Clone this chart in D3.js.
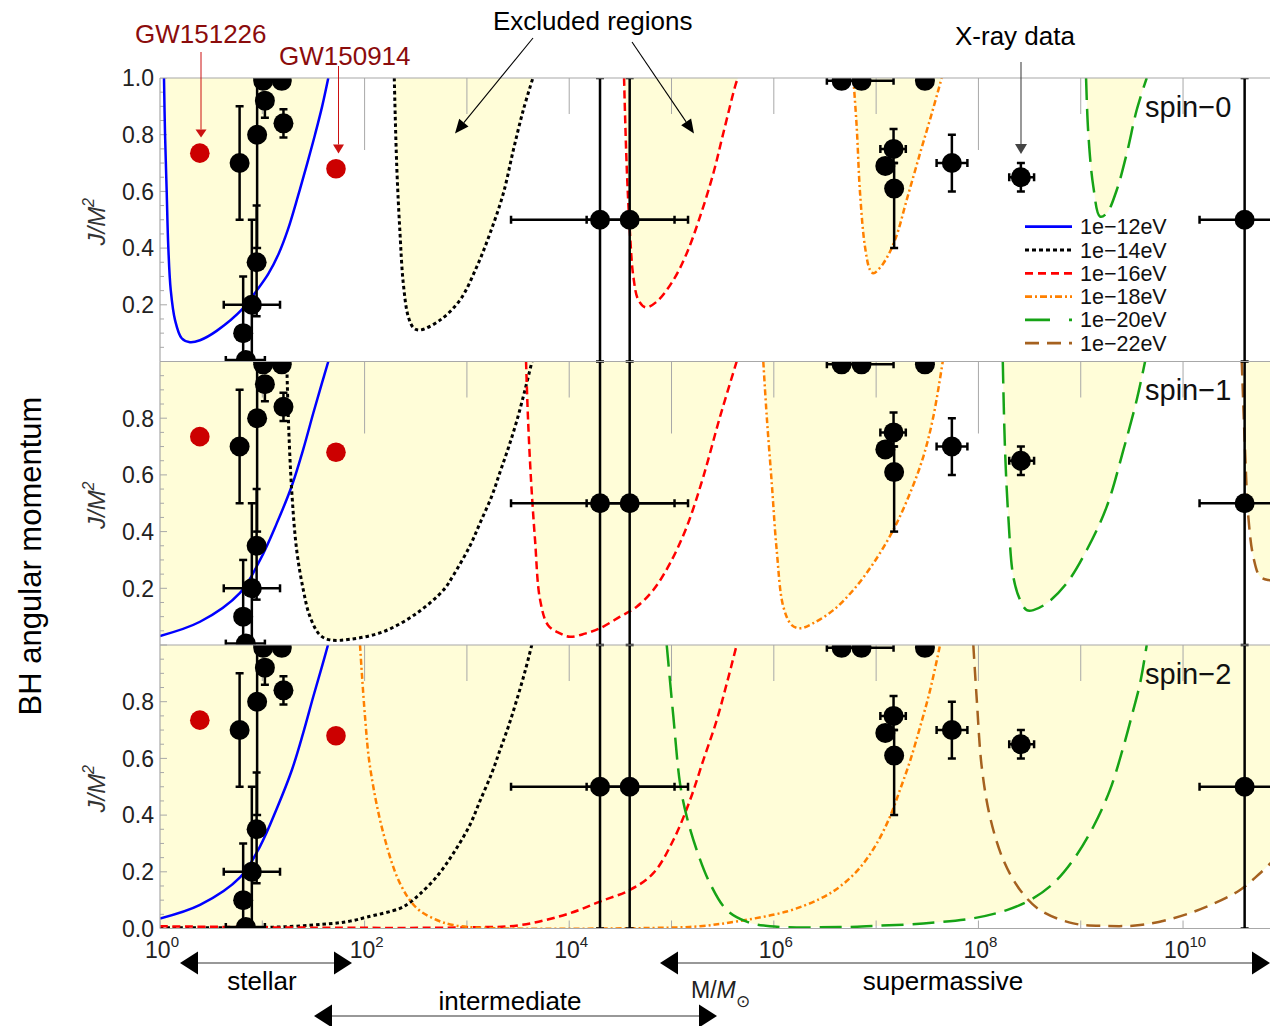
<!DOCTYPE html>
<html><head><meta charset="utf-8">
<script src="https://cdn.jsdelivr.net/npm/d3@7"></script>
<style>
body{margin:0;background:#fff}
svg{display:block}
text{font-family:"Liberation Sans",Arial,Helvetica,sans-serif}
</style>
</head><body>
<svg id="chart" width="1270" height="1026"></svg>
<script>
// ---------------- DATA ----------------
const panelNames = ["spin\u22120", "spin\u22121", "spin\u22122"];
const bosonMasses = ["1e\u221212eV", "1e\u221214eV", "1e\u221216eV", "1e\u221218eV", "1e\u221220eV", "1e\u221222eV"];
const xTickExps = [0, 2, 4, 6, 8, 10];
const yTickVals = [0.0, 0.2, 0.4, 0.6, 0.8, 1.0];

// Exclusion boundaries: [log10(M/Msun), J/M^2]
// spin-0
const s0_12 = [[0.039,1.0],[0.049,0.805],[0.065,0.605],[0.081,0.405],[0.105,0.252],[0.147,0.146],[0.212,0.082],[0.293,0.068],[0.391,0.075],[0.554,0.108],[0.814,0.188],[0.945,0.25],[1.06,0.31],[1.16,0.38],[1.25,0.465],[1.35,0.585],[1.44,0.70],[1.515,0.80],[1.585,0.90],[1.645,1.0]];
const s0_14 = [[2.29,1.0],[2.314,0.69],[2.346,0.452],[2.378,0.276],[2.427,0.158],[2.48,0.118],[2.542,0.111],[2.737,0.146],[2.933,0.217],[3.096,0.334],[3.226,0.452],[3.356,0.593],[3.454,0.746],[3.551,0.887],[3.645,1.0]];
const s0_16 = [[4.536,1.0],[4.562,0.687],[4.594,0.452],[4.627,0.299],[4.676,0.217],[4.748,0.191],[4.855,0.211],[5.018,0.287],[5.149,0.382],[5.279,0.511],[5.409,0.664],[5.506,0.805],[5.630,0.981],[5.650,1.0]];
const s0_18 = [[6.777,1.0],[6.810,0.828],[6.843,0.593],[6.891,0.405],[6.940,0.323],[6.973,0.311],[7.07,0.346],[7.185,0.429],[7.299,0.57],[7.429,0.734],[7.544,0.875],[7.641,1.0]];
const s0_20 = [[9.052,1.0],[9.074,0.805],[9.123,0.617],[9.189,0.511],[9.254,0.523],[9.352,0.605],[9.450,0.734],[9.547,0.887],[9.645,1.0]];
// spin-1
const s1_12 = [[0.0,0.032],[0.391,0.082],[0.782,0.184],[0.978,0.30],[1.141,0.429],[1.287,0.56],[1.40,0.69],[1.50,0.82],[1.58,0.92],[1.645,1.0]];
const s1_14 = [[1.239,1.0],[1.254,0.805],[1.287,0.547],[1.336,0.335],[1.401,0.194],[1.466,0.10],[1.564,0.035],[1.662,0.018],[1.857,0.02],[2.183,0.047],[2.509,0.112],[2.771,0.194],[2.866,0.245],[3.030,0.35],[3.128,0.43],[3.243,0.525],[3.324,0.61],[3.405,0.695],[3.487,0.79],[3.568,0.90],[3.636,1.0]];
const s1_16 = [[3.578,1.0],[3.597,0.80],[3.627,0.58],[3.666,0.37],[3.715,0.16],[3.793,0.07],[3.910,0.041],[4.008,0.029],[4.154,0.04],[4.301,0.059],[4.497,0.10],[4.660,0.135],[4.822,0.194],[4.985,0.288],[5.149,0.417],[5.311,0.594],[5.474,0.805],[5.637,1.0]];
const s1_18 = [[5.897,1.0],[5.931,0.805],[5.980,0.57],[6.028,0.335],[6.093,0.135],[6.175,0.07],[6.256,0.059],[6.386,0.077],[6.582,0.123],[6.777,0.194],[6.973,0.288],[7.168,0.406],[7.331,0.535],[7.461,0.664],[7.559,0.805],[7.651,1.0]];
const s1_20 = [[8.238,1.0],[8.260,0.688],[8.292,0.453],[8.341,0.241],[8.407,0.159],[8.472,0.123],[8.537,0.123],[8.667,0.147],[8.863,0.218],[9.059,0.335],[9.254,0.488],[9.417,0.688],[9.547,0.864],[9.629,1.0]];
const s1_22 = [[10.574,1.0],[10.606,0.688],[10.638,0.453],[10.687,0.311],[10.753,0.241],[10.834,0.229],[10.86,0.229]];
// spin-2
const s2_12 = [[0.0,0.035],[0.391,0.083],[0.782,0.18],[0.978,0.29],[1.144,0.425],[1.29,0.56],[1.40,0.69],[1.50,0.82],[1.58,0.92],[1.642,1.0]];
const s2_14 = [[0.0,0.003],[0.8,0.003],[1.205,0.006],[1.694,0.018],[1.857,0.026],[2.021,0.040],[2.346,0.071],[2.444,0.092],[2.542,0.122],[2.705,0.183],[2.867,0.265],[3.030,0.366],[3.128,0.45],[3.242,0.547],[3.324,0.63],[3.405,0.712],[3.487,0.806],[3.568,0.907],[3.634,1.0]];
const s2_16 = [[0.0,0.008],[1.5,0.003],[3.0,0.004],[3.519,0.012],[4.008,0.054],[4.301,0.095],[4.594,0.136],[4.822,0.195],[5.018,0.312],[5.181,0.453],[5.311,0.594],[5.442,0.735],[5.540,0.864],[5.637,1.0]];
const s2_18 = [[1.955,1.0],[2.004,0.747],[2.053,0.57],[2.183,0.336],[2.346,0.159],[2.509,0.072],[2.705,0.03],[2.867,0.012],[3.193,0.002],[4.822,0.002],[5.279,0.008],[5.637,0.025],[6.126,0.06],[6.452,0.105],[6.647,0.148],[6.843,0.215],[7.006,0.30],[7.136,0.395],[7.234,0.49],[7.331,0.59],[7.429,0.71],[7.527,0.84],[7.625,1.0]];
const s2_20 = [[4.953,1.0],[5.018,0.747],[5.083,0.512],[5.149,0.394],[5.246,0.277],[5.376,0.159],[5.540,0.065],[5.735,0.024],[5.963,0.008],[6.647,0.005],[6.973,0.009],[7.462,0.018],[7.950,0.036],[8.277,0.065],[8.504,0.10],[8.732,0.159],[8.927,0.242],[9.123,0.359],[9.286,0.489],[9.417,0.641],[9.514,0.771],[9.580,0.865],[9.645,1.0]];
const s2_22 = [[7.950,1.0],[7.984,0.806],[8.032,0.571],[8.113,0.394],[8.243,0.242],[8.407,0.136],[8.602,0.065],[8.927,0.018],[9.254,0.009],[9.580,0.012],[9.906,0.036],[10.232,0.077],[10.557,0.136],[10.753,0.195],[10.86,0.232]];

const panelCurves = [
  [s0_12, s0_14, s0_16, s0_18, s0_20, null],
  [s1_12, s1_14, s1_16, s1_18, s1_20, s1_22],
  [s2_12, s2_14, s2_16, s2_18, s2_20, s2_22]
];

// Black-hole spin measurements (same in each panel)
const bhMass  = [6.0, 8.9, 10.6, 16.1, 10.2, 15.5, 8.8, 7.9, 6.5, 6.9, 2.0e4, 3.9e4, 4.6e6, 7.2e6, 3.0e7, 1.48e7, 1.23e7, 1.5e7, 5.5e7, 2.6e8, 4.0e10];
const bhSpin  = [0.70, 0.80, 0.92, 0.84, 0.99, 0.99, 0.35, 0.20, 0.10, 0.005, 0.5, 0.5, 0.99, 0.99, 0.99, 0.75, 0.69, 0.61, 0.70, 0.65, 0.5];
const spinLo  = [0.50, 0.40, 0.86, 0.79, 0.97, 0.98, 0.16, 0.0, 0.0, null, 0.0, 0.0, null, 0.98, null, 0.70, null, 0.40, 0.60, 0.60, 0.0];
const spinHi  = [0.90, 1.0, 0.94, 0.89, 1.0, 1.0, 0.55, 0.50, 0.30, null, 1.0, 1.0, null, 1.0, null, 0.82, null, 0.70, 0.80, 0.70, 1.0];
const massLo  = [null, null, null, null, null, null, null, 4.2, null, 4.4, 2.7e3, 1.48e4, null, 3.3e6, null, 1.1e7, null, null, 3.9e7, 2.0e8, 1.45e10];
const massHi  = [null, null, null, null, null, null, null, 14.9, null, 10.6, 1.07e5, 1.45e5, null, 1.48e7, null, 1.95e7, null, null, 7.8e7, 3.5e8, 3.0e11];

// LIGO events
const gwNames = ["GW151226", "GW150914"];
const gwMass = [2.45, 52.5];
const gwSpin = [0.735, 0.68];

// ---------------- DRAWING ----------------
const svg = d3.select("#chart");
const left = 160, right = 1270, top0 = 78, ph = 283.5;
const x = d3.scaleLog().domain([1, Math.pow(10, 10.85)]).range([left, right]);
const lx = v => x(Math.pow(10, v));

const curveStyles = [
  {color: "#0000ff", dash: null, w: 2.5, legDash: null},
  {color: "#000000", dash: "3.5,3", w: 3, legDash: "4,3"},
  {color: "#ff0000", dash: "8,4.5", w: 2.5, legDash: "8,5"},
  {color: "#ff8000", dash: "6,3,2,3", w: 2.5, legDash: "7,3,2,3"},
  {color: "#16a316", dash: "22,9", w: 2.5, legDash: "25,19"},
  {color: "#a5611f", dash: "14,8", w: 2.5, legDash: "14,8"}
];
const fillColor = "#fffdd8";
const gridColor = "#a8a8a8";
const smooth = d3.curveCatmullRom.alpha(0.5);

const longTicks = [[2, 8], [2, 5, 8], []];

panelNames.forEach((name, i) => {
  const pTop = top0 + i * ph;
  const y = d3.scaleLinear().domain([0, 1]).range([pTop + ph, pTop]);
  const clipId = "clip" + i;
  svg.append("clipPath").attr("id", clipId)
    .append("rect").attr("x", left).attr("y", pTop).attr("width", right - left).attr("height", ph);
  const g = svg.append("g");
  const gc = g.append("g").attr("clip-path", `url(#${clipId})`);

  const area = d3.area().x(d => lx(d[0])).y0(y(1)).y1(d => y(d[1])).curve(smooth);
  const line = d3.line().x(d => lx(d[0])).y(d => y(d[1])).curve(smooth);

  // fills
  panelCurves[i].forEach(c => {
    if (!c) return;
    gc.append("path").attr("d", area(c)).attr("fill", fillColor).attr("stroke", "none");
  });

  // top frame ticks at each decade
  d3.range(1, 11).forEach(e => {
    const len = longTicks[i].includes(e) ? 72 : 36;
    gc.append("line").attr("x1", lx(e)).attr("x2", lx(e)).attr("y1", pTop).attr("y2", pTop + len)
      .attr("stroke", gridColor).attr("stroke-width", 1);
  });
  // left y ticks
  d3.range(0, 21).forEach(k => {
    const v = k / 20;
    const major = k % 4 === 0;
    gc.append("line").attr("x1", left).attr("x2", left + (major ? 7 : 4))
      .attr("y1", y(v)).attr("y2", y(v)).attr("stroke", gridColor).attr("stroke-width", 1);
  });
  if (i === 2) {
    d3.range(0, 11).forEach(e => {
      gc.append("line").attr("x1", lx(e)).attr("x2", lx(e)).attr("y1", pTop + ph).attr("y2", pTop + ph - 8)
        .attr("stroke", gridColor).attr("stroke-width", 1);
    });
  }

  // curves
  panelCurves[i].forEach((c, k) => {
    if (!c) return;
    const st = curveStyles[k];
    gc.append("path").attr("d", line(c)).attr("fill", "none")
      .attr("stroke", st.color).attr("stroke-width", st.w)
      .attr("stroke-dasharray", st.dash);
  });

  // error bars and points
  const cap = 4;
  bhMass.forEach((m, j) => {
    const cx = x(m), cy = y(bhSpin[j]);
    if (spinLo[j] !== null) {
      const y1 = y(spinLo[j]), y2 = y(spinHi[j]);
      gc.append("line").attr("x1", cx).attr("x2", cx).attr("y1", y1).attr("y2", y2).attr("stroke", "#000").attr("stroke-width", 2.5);
      [y1, y2].forEach(yy => gc.append("line").attr("x1", cx - cap).attr("x2", cx + cap).attr("y1", yy).attr("y2", yy).attr("stroke", "#000").attr("stroke-width", 2.5));
    }
    if (massLo[j] !== null) {
      const x1 = x(massLo[j]), x2 = x(massHi[j]);
      gc.append("line").attr("x1", x1).attr("x2", x2).attr("y1", cy).attr("y2", cy).attr("stroke", "#000").attr("stroke-width", 2.5);
      [x1, x2].forEach(xx => gc.append("line").attr("x1", xx).attr("x2", xx).attr("y1", cy - cap).attr("y2", cy + cap).attr("stroke", "#000").attr("stroke-width", 2.5));
    }
  });
  bhMass.forEach((m, j) => {
    gc.append("circle").attr("cx", x(m)).attr("cy", y(bhSpin[j])).attr("r", 10).attr("fill", "#000");
  });
  gwMass.forEach((m, j) => {
    gc.append("circle").attr("cx", x(m)).attr("cy", y(gwSpin[j])).attr("r", 9.8).attr("fill", "#cc0000");
  });

  // frame
  g.append("line").attr("x1", left).attr("x2", left).attr("y1", pTop).attr("y2", pTop + ph).attr("stroke", gridColor).attr("stroke-width", 1.2);
  g.append("line").attr("x1", left).attr("x2", right).attr("y1", pTop).attr("y2", pTop).attr("stroke", gridColor).attr("stroke-width", 1.2);
  if (i === 2) g.append("line").attr("x1", left).attr("x2", right).attr("y1", pTop + ph).attr("y2", pTop + ph).attr("stroke", gridColor).attr("stroke-width", 1.2);

  // y tick labels
  yTickVals.forEach(v => {
    if (v === 0 && i !== 2) return;
    if (v === 1 && i !== 0) return;
    g.append("text").attr("x", 154).attr("y", y(v) + 8.3).attr("text-anchor", "end")
      .attr("font-size", 23).attr("fill", "#222").text(d3.format(".1f")(v));
  });

  // y axis title J/M^2
  const yt = g.append("text").attr("transform", `translate(105,${pTop + ph / 2 + 2}) rotate(-90)`)
    .attr("text-anchor", "middle").attr("font-size", 24).attr("fill", "#333").attr("font-style", "italic");
  yt.append("tspan").text("J/M");
  yt.append("tspan").attr("font-size", 16).attr("dy", -11).text("2");

  // spin label
  g.append("text").attr("x", 1145).attr("y", pTop + 38.5).attr("font-size", 29).attr("fill", "#111").text(name);
});

// x tick labels
xTickExps.forEach(e => {
  const t = svg.append("text").attr("x", lx(e) + 2).attr("y", 958).attr("text-anchor", "middle").attr("font-size", 23).attr("fill", "#222");
  t.append("tspan").text("10");
  t.append("tspan").attr("font-size", 15).attr("dy", -11).text(String(e));
});

// big y title
svg.append("text").attr("transform", "translate(41,556) rotate(-90)").attr("text-anchor", "middle")
  .attr("font-size", 31).attr("fill", "#000").text("BH angular momentum");

// legend
bosonMasses.forEach((lab, k) => {
  const st = curveStyles[k];
  const ly = 226.7 + k * 23.3;
  svg.append("line").attr("x1", 1025).attr("x2", 1072).attr("y1", ly).attr("y2", ly)
    .attr("stroke", st.color).attr("stroke-width", 2.8).attr("stroke-dasharray", st.legDash);
  svg.append("text").attr("x", 1080).attr("y", ly + 7.5).attr("font-size", 21.5).attr("fill", "#111").text(lab);
});

// helper: arrow with filled head
function arrow(x1, y1, x2, y2, color, lw, hl, hw) {
  const ang = Math.atan2(y2 - y1, x2 - x1);
  const bx = x2 - hl * Math.cos(ang), by = y2 - hl * Math.sin(ang);
  svg.append("line").attr("x1", x1).attr("y1", y1).attr("x2", bx).attr("y2", by).attr("stroke", color).attr("stroke-width", lw);
  const px = -Math.sin(ang) * hw, py = Math.cos(ang) * hw;
  svg.append("path").attr("d", `M${x2},${y2}L${bx + px},${by + py}L${bx - px},${by - py}Z`).attr("fill", color);
}

// GW annotations
const gwLabelX = [135, 279], gwLabelY = [43, 65];
gwNames.forEach((n, j) => {
  svg.append("text").attr("x", gwLabelX[j]).attr("y", gwLabelY[j]).attr("font-size", 26).attr("fill", "#8b0c0c").text(n);
});
arrow(201, 52, 201, 137.5, "#cc1111", 1, 8, 5.5);
arrow(338.5, 66, 338.5, 153.5, "#cc1111", 1, 9, 5.5);

// Excluded regions
svg.append("text").attr("x", 493).attr("y", 30).attr("font-size", 26).attr("fill", "#000").text("Excluded regions");
arrow(533, 38, 455, 133.5, "#000", 1.1, 14, 6);
arrow(632, 42, 694, 133.5, "#000", 1.1, 14, 6);

// X-ray data
svg.append("text").attr("x", 955).attr("y", 45).attr("font-size", 26).attr("fill", "#000").text("X-ray data");
arrow(1021, 62, 1021, 154, "#444", 1.1, 10, 6);

// mass-range arrows
function dblArrow(x1, x2, yy) {
  svg.append("line").attr("x1", x1 + 15).attr("x2", x2 - 15).attr("y1", yy).attr("y2", yy).attr("stroke", "#333").attr("stroke-width", 1.2);
  svg.append("path").attr("d", `M${x1},${yy}L${x1 + 18},${yy - 11.5}L${x1 + 18},${yy + 11.5}Z`).attr("fill", "#000");
  svg.append("path").attr("d", `M${x2},${yy}L${x2 - 18},${yy - 11.5}L${x2 - 18},${yy + 11.5}Z`).attr("fill", "#000");
}
dblArrow(180, 352, 963);
dblArrow(660, 1270, 963);
dblArrow(314, 717, 1016);
svg.append("text").attr("x", 262).attr("y", 990).attr("text-anchor", "middle").attr("font-size", 26).text("stellar");
svg.append("text").attr("x", 943).attr("y", 990).attr("text-anchor", "middle").attr("font-size", 26).text("supermassive");
svg.append("text").attr("x", 510).attr("y", 1010).attr("text-anchor", "middle").attr("font-size", 26).text("intermediate");

// M/Msun
const mt = svg.append("text").attr("x", 691).attr("y", 998).attr("font-size", 23).attr("fill", "#222");
mt.append("tspan").text("M/");
mt.append("tspan").attr("font-style", "italic").text("M");
mt.append("tspan").attr("font-size", 17).attr("dy", 9).text("\u2299");
</script>
</body></html>
